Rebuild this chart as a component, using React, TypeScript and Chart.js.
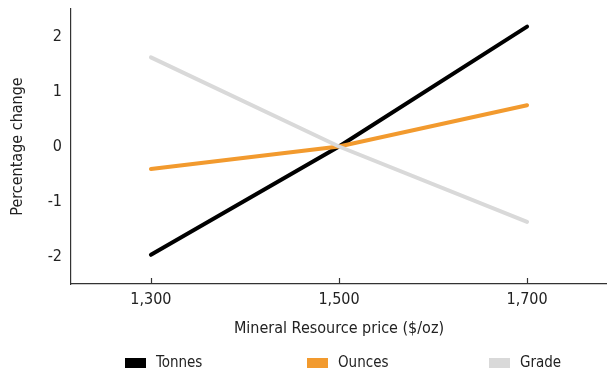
import React, { useEffect, useRef } from 'react';
import { Chart, registerables } from 'chart.js';

Chart.register(...registerables);

const prices = [1300, 1500, 1700];
const tonnes = [-1.97, 0, 2.18];
const ounces = [-0.41, 0, 0.75];
const grade = [1.62, 0, -1.37];
const yTickValues = [-2, -1, 0, 1, 2];
const seriesNames = ['Tonnes', 'Ounces', 'Grade'];
const seriesColors = ['#000000', '#F29A2E', '#D9D9D9'];
const xTitle = 'Mineral Resource price ($/oz)';
const yTitle = 'Percentage change';

const FONT = "'Liberation Sans Narrow', 'DejaVu Sans Condensed', 'Arial Narrow', sans-serif";
const TEXT = '#222222';
const AXIS = '#333333';

const extrasPlugin = {
  id: 'extras',
  afterDraw(chart: any) {
    const ctx = chart.ctx;
    const xs = chart.scales.x;
    const b = chart.chartArea.bottom;
    ctx.save();
    ctx.strokeStyle = AXIS;
    ctx.lineWidth = 1.2;
    prices.forEach((p) => {
      const px = Math.round(xs.getPixelForValue(p)) + 0.5;
      ctx.beginPath();
      ctx.moveTo(px, b);
      ctx.lineTo(px, b - 6);
      ctx.stroke();
    });
    // legend
    const legendY = 363;
    const startX = 125;
    const step = 182;
    ctx.font = `15px ${FONT}`;
    ctx.textBaseline = 'middle';
    ctx.textAlign = 'left';
    seriesNames.forEach((name, i) => {
      const x = startX + i * step;
      ctx.fillStyle = seriesColors[i];
      ctx.fillRect(x, legendY - 5, 21, 10);
      ctx.fillStyle = TEXT;
      ctx.fillText(name, x + 31, legendY);
    });
    ctx.restore();
  },
};

export default function App() {
  const ref = useRef<HTMLCanvasElement>(null);
  useEffect(() => {
    document.body.style.margin = '0';
    const canvas = ref.current;
    if (!canvas) return;
    const series = [tonnes, ounces, grade];
    const orders = [2, 1, 0];
    const chart = new Chart(canvas, {
      type: 'line',
      data: {
        datasets: series.map((vals, i) => ({
          label: seriesNames[i],
          data: prices.map((p, j) => ({ x: p, y: vals[j] })),
          borderColor: seriesColors[i],
          backgroundColor: seriesColors[i],
          borderWidth: 4,
          borderCapStyle: 'round',
          pointRadius: 0,
          tension: 0,
          order: orders[i],
        })),
      },
      options: {
        animation: false,
        responsive: false,
        devicePixelRatio: 1,
        layout: { padding: { top: 9, bottom: 38, left: 0, right: 0 } },
        plugins: { legend: { display: false }, tooltip: { enabled: false } },
        scales: {
          x: {
            type: 'linear',
            min: 1215,
            max: 1785,
            grid: { display: false, drawTicks: false },
            border: { display: true, color: AXIS, width: 1.2 },
            afterBuildTicks: (s: any) => {
              s.ticks = prices.map((v) => ({ value: v }));
            },
            afterFit: (s: any) => {
              s.height = 54;
              s.paddingLeft = 0;
              s.paddingRight = 0;
            },
            ticks: {
              padding: 6,
              color: TEXT,
              font: { family: FONT, size: 16 },
              callback: (v: any) => Number(v).toLocaleString('en-US'),
              maxRotation: 0,
            },
            title: {
              display: true,
              text: xTitle,
              color: TEXT,
              font: { family: FONT, size: 16 },
              padding: { top: 0, bottom: 0 },
            },
          },
          y: {
            type: 'linear',
            min: -2.5,
            max: 2.5,
            grid: { display: false, drawTicks: false },
            border: { display: true, color: AXIS, width: 1.2 },
            afterBuildTicks: (s: any) => {
              s.ticks = yTickValues.map((v) => ({ value: v }));
            },
            afterFit: (s: any) => {
              s.width = 71;
              s.paddingTop = 0;
              s.paddingBottom = 0;
            },
            ticks: {
              padding: 9,
              color: TEXT,
              font: { family: FONT, size: 16 },
            },
            title: {
              display: true,
              text: yTitle,
              color: TEXT,
              font: { family: FONT, size: 16 },
              padding: { top: 8, bottom: 0 },
            },
          },
        },
      },
      plugins: [extrasPlugin],
    } as any);
    return () => chart.destroy();
  }, []);
  return (
    <div style={{ width: 607, height: 376 }}>
      <canvas ref={ref} width={607} height={376} />
    </div>
  );
}
